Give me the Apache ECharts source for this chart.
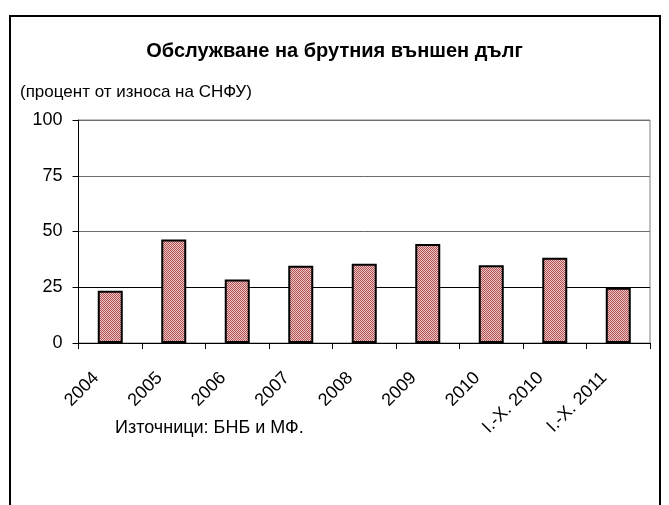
<!DOCTYPE html>
<html>
<head>
<meta charset="utf-8">
<script src="https://cdn.jsdelivr.net/npm/echarts@6/dist/echarts.min.js"></script>
<style>
  html, body { margin: 0; padding: 0; background: #fff; }
  #chart { width: 669px; height: 505px; }
</style>
</head>
<body>
<div id="chart"></div>
<script>
const categories = ["2004", "2005", "2006", "2007", "2008", "2009", "2010", "I.-X. 2010", "I.-X. 2011"];
const debtService = [23.4, 46.4, 28.5, 34.6, 35.5, 44.4, 34.9, 38.2, 24.8];
const yTicks = [0, 25, 50, 75, 100];

// dotted red fill like the original
const makePattern = () => {
	const c = document.createElement("canvas");
	c.width = 2;
	c.height = 2;
	const ctx = c.getContext("2d");
	ctx.fillStyle = "#ecc6c6";
	ctx.fillRect(0, 0, 2, 2);
	ctx.fillStyle = "#b25252";
	ctx.fillRect(0, 0, 1, 1);
	ctx.fillRect(1, 1, 1, 1);
	return c;
};

const font = "Liberation Sans, Arial, sans-serif";
const chart = echarts.init(document.getElementById("chart"));
chart.setOption({
	animation: false,
	textStyle: { fontFamily: font },
	title: [{
		text: "Обслужване на брутния външен дълг",
		left: "center",
		top: 36,
		textStyle: { fontSize: 20, fontWeight: "bold", color: "#000", fontFamily: font }
	}, {
		text: "(процент от износа на СНФУ)",
		left: 15,
		top: 79,
		textStyle: { fontSize: 17, fontWeight: "normal", color: "#000", fontFamily: font }
	}, {
		text: "Източници: БНБ и МФ.",
		left: 110,
		top: 414,
		textStyle: { fontSize: 18, fontWeight: "normal", color: "#000", fontFamily: font }
	}],
	graphic: [{
		type: "rect",
		shape: { x: 10, y: 16, width: 650, height: 520 },
		style: { fill: "none", stroke: "#000", lineWidth: 2 },
		silent: true
	}],
	grid: {
		left: 78.5,
		right: 19,
		top: 120,
		bottom: 162,
		show: true,
		borderColor: "#808080",
		borderWidth: 1
	},
	xAxis: {
		type: "category",
		data: categories,
		axisLine: { show: true, lineStyle: { color: "#000", width: 1 } },
		axisTick: { show: true, alignWithLabel: false, length: 6, lineStyle: { color: "#000" } },
		axisLabel: {
			interval: 0,
			rotate: 45,
			fontSize: 18,
			color: "#000",
			margin: 18,
			padding: [0, 20, 0, 0],
			fontFamily: font
		},
		splitLine: { show: false }
	},
	yAxis: {
		type: "value",
		min: yTicks[0],
		max: yTicks[yTicks.length - 1],
		interval: 25,
		axisLine: { show: true, lineStyle: { color: "#000", width: 1 } },
		axisTick: { show: true, length: 6, lineStyle: { color: "#000" } },
		axisLabel: { fontSize: 18, color: "#000", margin: 16, fontFamily: font },
		splitLine: {
			show: true,
			lineStyle: { color: ["#000", "#000", "#6e6e6e", "#6e6e6e", "#6e6e6e"], width: 1 }
		}
	},
	series: [{
		type: "bar",
		data: debtService,
		barWidth: 25,
		itemStyle: {
			color: { image: makePattern(), repeat: "repeat" },
			borderColor: "#000",
			borderWidth: 2
		}
	}]
});
</script>
</body>
</html>
